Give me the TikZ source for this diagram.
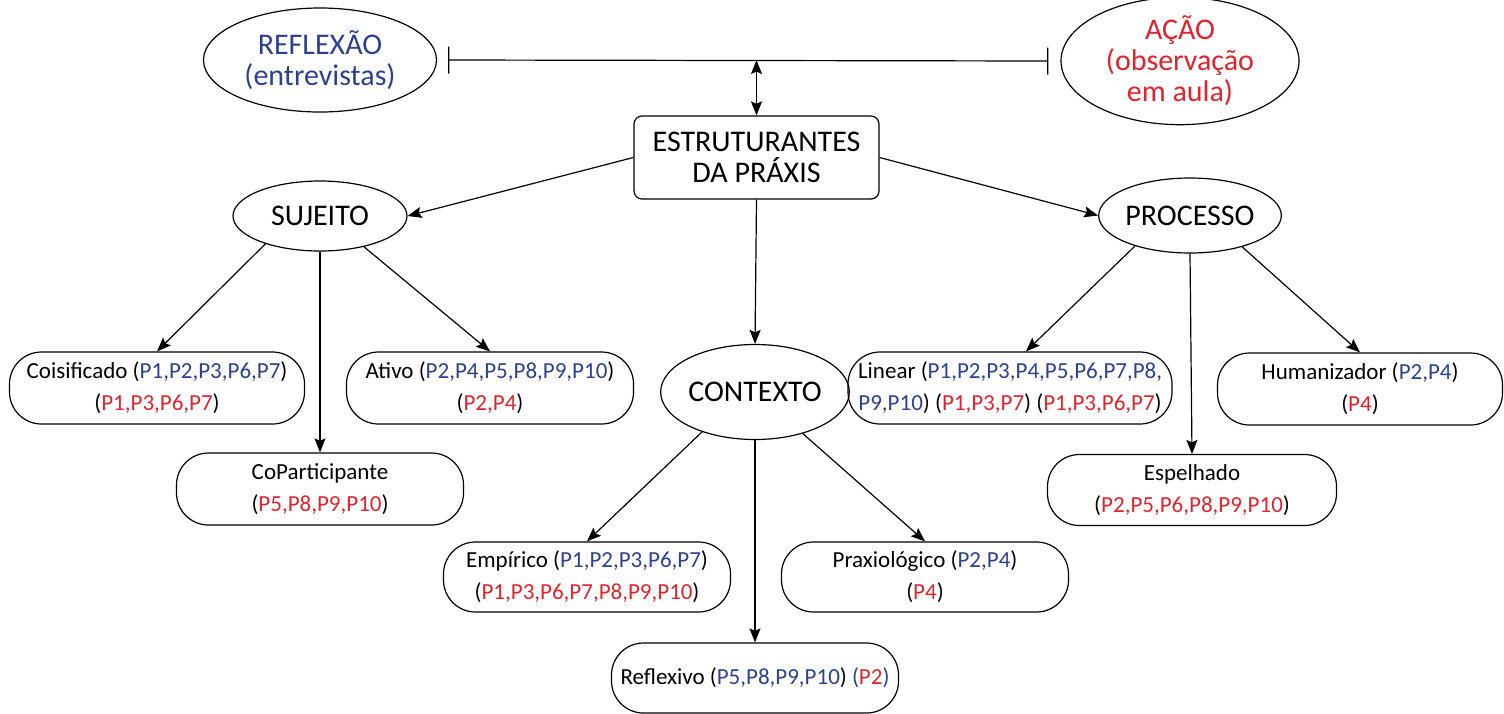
\documentclass[tikz,border=0pt]{standalone}
\usepackage{fontspec}
\setmainfont{Carlito}
\usepackage{tikz}
\usetikzlibrary{arrows.meta,shapes.geometric}
\definecolor{azul}{RGB}{46,64,145}
\definecolor{verm}{RGB}{226,35,45}

\begin{document}
\begin{tikzpicture}[x=0.5pt,y=-0.5pt,line width=0.6pt,
    elip/.style={draw, ellipse, inner sep=0pt, align=center, font=\fontsize{15}{15.5}\selectfont},
    caixa/.style={draw, rounded corners=16pt, minimum width=143.5pt, minimum height=36pt, inner sep=0pt, align=center, font=\fontsize{11.5}{16}\selectfont},
    seta/.style={-{Stealth[length=7pt,width=5.5pt,inset=1.2pt]}}]
                      \useasboundingbox (0,0) rectangle (1504,713);
                      \node[elip, minimum width=116.5pt, minimum height=52pt, text=azul] (refl) at (320,60) {REFLEXÃO\\(entrevistas)};
                      \node[elip, minimum width=119pt, minimum height=53.5pt, text=verm] (acao) at (1180,61) {AÇÃO\\(observação\\em aula)};
                      \node[draw, rounded corners=4pt, minimum width=122.5pt, minimum height=41.5pt, inner sep=0pt, align=center, font=\fontsize{15}{15.5}\selectfont] (estr) at (756.5,157.5) {ESTRUTURANTES\\DA PRÁXIS};
                      \node[elip, minimum width=87pt, minimum height=35pt] (suj) at (320,216) {SUJEITO};
                      \node[elip, minimum width=84pt, minimum height=37.5pt] (proc) at (1190,215.5) {PROCESSO};
                      \node[elip, minimum width=78pt, minimum height=47.5pt] (cont) at (755,392) {CONTEXTO};
                      \node[caixa, minimum width=147.5pt] (coi) at (157,388) {Coisificado (\textcolor{azul}{P1,P2,P3,P6,P7})\\(\textcolor{verm}{P1,P3,P6,P7})};
                      \node[caixa] (ati) at (490,388) {Ativo (\textcolor{azul}{P2,P4,P5,P8,P9,P10})\\(\textcolor{verm}{P2,P4})};
                      \node[caixa] (cop) at (320,489) {CoParticipante\\(\textcolor{verm}{P5,P8,P9,P10})};
                      \node[caixa, minimum width=162pt] (lin) at (1010,388) {Linear (\textcolor{azul}{P1,P2,P3,P4,P5,P6,P7,P8,}\\\textcolor{azul}{P9,P10}) (\textcolor{verm}{P1,P3,P7}) (\textcolor{verm}{P1,P3,P6,P7})};
                      \node[caixa, minimum width=142.5pt] (hum) at (1360,389) {Humanizador (\textcolor{azul}{P2,P4})\\(\textcolor{verm}{P4})};
                      \node[caixa, minimum width=144.5pt, minimum height=35.5pt] (esp) at (1192,490) {Espelhado\\(\textcolor{verm}{P2,P5,P6,P8,P9,P10})};
                      \node[caixa, minimum height=35pt] (emp) at (587,577) {Empírico (\textcolor{azul}{P1,P2,P3,P6,P7})\\(\textcolor{verm}{P1,P3,P6,P7,P8,P9,P10})};
                      \node[caixa, minimum height=35pt] (pra) at (925,577) {Praxiológico (\textcolor{azul}{P2,P4})\\(\textcolor{verm}{P4})};
                      \node[caixa, minimum height=35pt] (rfx) at (755,678) {Reflexivo (\textcolor{azul}{P5,P8,P9,P10}) \textcolor{azul}{(}\textcolor{verm}{P2}\textcolor{azul}{)}};
                      % linha entre reflexao e acao
                      \coordinate (bl) at ([xshift=5.5pt]refl.east);
                      \coordinate (br) at ([xshift=-6pt]acao.west);
                      \coordinate (meio) at (estr.north |- bl);
                      \draw[{Bar[width=13.5pt]}-{Bar[width=13.5pt]}] (bl) -- (br);
                      \draw[{Stealth[length=7pt,width=5.5pt,inset=1.2pt]}-{Stealth[length=7pt,width=5.5pt,inset=1.2pt]}] (meio) -- (estr.north);
                      \draw[seta] (estr.west) -- (suj.east);
                      \draw[seta] (estr.east) -- (proc.west);
                      \draw[seta] (estr.south) -- (cont.north);
                      \draw[seta] (suj.207) -- (coi.north);
                      \draw[seta] (suj.south) -- (cop.north);
                      \draw[seta] (suj.325) -- (ati.north);
                      \draw[seta] (proc.209) -- ([xshift=8pt]lin.north);
                      \draw[seta] (proc.south) -- (esp.north);
                      \draw[seta] (proc.329) -- (hum.north);
                      \draw[seta] (cont.217) -- (emp.north);
                      \draw[seta] (cont.south) -- (rfx.north);
                      \draw[seta] (cont.319) -- (pra.north);
                  \end{tikzpicture}
\end{document}
